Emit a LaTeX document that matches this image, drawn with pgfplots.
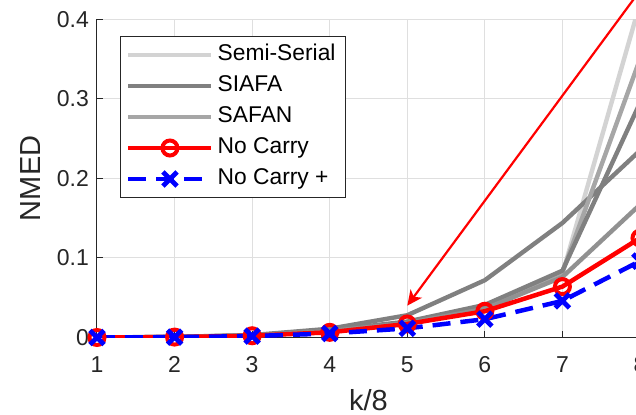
\documentclass[border=0pt]{standalone}
\usepackage{fontspec}
\setmainfont{Liberation Sans}
\usepackage{pgfplots}
\pgfplotsset{compat=1.18}
\usetikzlibrary{arrows.meta}
\definecolor{axgray}{RGB}{38,38,38}
\definecolor{gridc}{RGB}{223,223,223}
\definecolor{ssc}{RGB}{211,211,211}
\definecolor{siafac}{RGB}{128,128,128}
\definecolor{safanc}{RGB}{166,166,166}
\definecolor{midg}{RGB}{145,145,145}
\begin{document}
\begin{tikzpicture}
\begin{axis}[
  at={(0,0)}, anchor=south west,
  scale only axis, width=271.5pt, height=159.1pt,
  xmin=1, xmax=8, ymin=0, ymax=0.4,
  xtick={1,2,3,4,5,6,7,8}, ytick={0,0.1,0.2,0.3,0.4},
  axis x line*=bottom, axis y line*=left,
  axis line style={draw=axgray, line width=0.5pt, -},
  tick align=inside, major tick length=3pt,
  tick style={draw=axgray, line width=0.5pt},
  grid=major, major grid style={draw=gridc, line width=0.5pt},
  ticklabel style={font=\fontsize{11.5}{13}\selectfont, text=axgray},
  /pgf/number format/assume math mode=true,
  xticklabel style={yshift=-6pt},
  yticklabel style={xshift=-0.5pt},
  xlabel={k/8}, ylabel={NMED},
  label style={font=\fontsize{14.5}{16}\selectfont, text=axgray},
  xlabel style={at={(axis description cs:0.5,-0.197)}, anchor=center},
  ylabel style={at={(axis description cs:-0.1215,0.5)}, anchor=center},
  legend style={at={(axis description cs:0.0418,0.9475)}, anchor=north west,
    draw=axgray, line width=0.5pt, fill=white, inner xsep=3pt, inner ysep=1.5pt,
    row sep=0pt, font=\fontsize{11.4}{13}\selectfont,
    /tikz/every even column/.append style={column sep=3.8pt},
    nodes={inner xsep=2pt, inner ysep=2.5pt, text height=8pt, text depth=2.5pt, text=black}},
  legend cell align=left,
  legend image code/.code={\draw[#1, mark repeat=2, mark phase=2] plot coordinates {(-0.5pt,0pt) (20.25pt,0pt) (41pt,0pt)};},
]
\addplot[color=ssc, line width=2.2pt] coordinates {(1,0) (2,0.0005) (3,0.0025) (4,0.008) (5,0.018) (6,0.037) (7,0.080) (8,0.42)};
\addlegendentry{Semi-Serial}
\addplot[color=siafac, line width=2.2pt] coordinates {(1,0) (2,0.0008) (3,0.003) (4,0.011) (5,0.028) (6,0.072) (7,0.144) (8,0.235)};
\addlegendentry{SIAFA}
\addplot[color=safanc, line width=2.2pt] coordinates {(1,0) (2,0.0006) (3,0.0026) (4,0.0085) (5,0.019) (6,0.039) (7,0.082) (8,0.35)};
\addlegendentry{SAFAN}
\addplot[color=siafac, line width=2.2pt, forget plot] coordinates {(1,0) (2,0.0006) (3,0.0028) (4,0.009) (5,0.020) (6,0.041) (7,0.084) (8,0.295)};
\addplot[color=midg, line width=2.2pt, forget plot] coordinates {(1,0) (2,0.0005) (3,0.0024) (4,0.008) (5,0.018) (6,0.036) (7,0.076) (8,0.167)};
\addplot[color=red, line width=2.25pt, mark=o, mark size=3.75pt, mark options={solid, line width=2pt}] coordinates {(1,0) (2,0.0005) (3,0.0022) (4,0.0065) (5,0.017) (6,0.033) (7,0.064) (8,0.125)};
\addlegendentry{No Carry}
\addplot[color=blue, line width=2.25pt, dash pattern=on 9pt off 5pt, mark=x, mark size=5pt, mark options={solid, line width=2.4pt}] coordinates {(1,0) (2,0.0004) (3,0.0018) (4,0.005) (5,0.0115) (6,0.023) (7,0.046) (8,0.096)};
\addlegendentry{No Carry +}
\coordinate (as) at (axis cs:8,0.436);
\coordinate (ae) at (axis cs:5,0.04);
\end{axis}
\draw[red, line width=1.1pt, -{Stealth[length=7.5pt, width=7pt, inset=2pt]}] (as) -- (ae);
\pgfresetboundingbox
\useasboundingbox (-48.5pt,-38.75pt) rectangle (269.5pt,168.75pt);
\end{tikzpicture}
\end{document}
